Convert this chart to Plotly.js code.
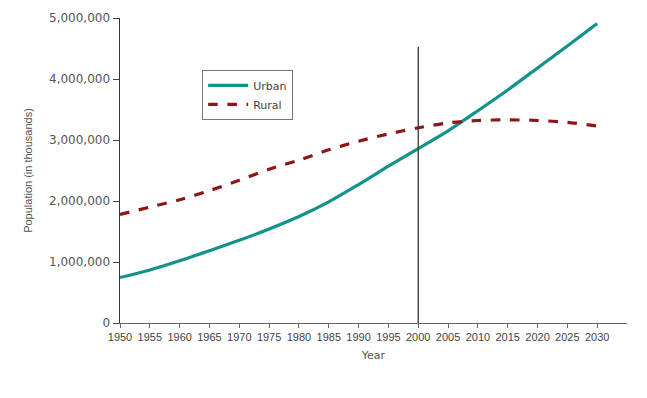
<!DOCTYPE html>
<html>
<head>
<meta charset="utf-8">
<script src="https://cdn.plot.ly/plotly-3.0.1.min.js"></script>
<style>html,body{margin:0;padding:0;background:#fff;}#chart{width:647px;height:398px;}</style>
</head>
<body>
<div id="chart"></div>
<script>
const years = [1950,1955,1960,1965,1970,1975,1980,1985,1990,1995,2000,2005,2010,2015,2020,2025,2030];
const urban = [745000,870000,1020000,1185000,1355000,1540000,1745000,1985000,2270000,2570000,2860000,3150000,3480000,3820000,4180000,4540000,4910000];
const rural = [1780000,1900000,2020000,2170000,2340000,2520000,2670000,2840000,2980000,3100000,3200000,3280000,3320000,3330000,3320000,3290000,3230000];
const yTicks = [0,1000000,2000000,3000000,4000000,5000000];
const yTickText = ['0','1,000,000','2,000,000','3,000,000','4,000,000','5,000,000'];
const dividerYear = 2000;
const dividerTop = 4530000;

const data = [
  {x: years, y: urban, name: 'Urban', type: 'scatter', mode: 'lines',
   line: {color: '#13918c', width: 3.2, shape: 'spline', smoothing: 0.8}},
  {x: years, y: rural, name: 'Rural', type: 'scatter', mode: 'lines',
   line: {color: '#8e1515', width: 3.2, dash: 'dash', shape: 'spline', smoothing: 0.8}}
];

const layout = {
  width: 647, height: 398,
  margin: {l: 120, r: 20, t: 18, b: 75},
  paper_bgcolor: '#fff', plot_bgcolor: '#fff',
  showlegend: true,
  legend: {x: 0.162, y: 0.83, xanchor: 'left', yanchor: 'top',
    bordercolor: '#777', borderwidth: 1, bgcolor: '#fff',
    font: {family: 'DejaVu Sans, sans-serif', size: 11, color: '#444'},
    tracegroupgap: 0, itemwidth: 40},
  xaxis: {range: [1950, 2035], tickvals: years, ticktext: years.map(String),
    showgrid: false, zeroline: false, showline: true, linecolor: '#666', linewidth: 1,
    ticks: 'outside', ticklen: 4, tickcolor: '#666',
    tickfont: {family: 'Liberation Sans, Arial, sans-serif', size: 11, color: '#444'},
    title: {text: 'Year', font: {family: 'DejaVu Sans, sans-serif', size: 11, color: '#555'}, standoff: 9}},
  yaxis: {range: [0, 5000000], tickvals: yTicks, ticktext: yTickText,
    showgrid: false, zeroline: false, showline: true, linecolor: '#333', linewidth: 1.5,
    ticks: 'outside', ticklen: 6, tickcolor: '#444',
    tickfont: {family: 'DejaVu Sans, sans-serif', size: 12, color: '#555'},
    title: {text: 'Population (in thousands)', font: {family: 'Liberation Sans Narrow, Liberation Sans, Arial, sans-serif', size: 11, color: '#555'}, standoff: 14}},
  shapes: [{type: 'line', xref: 'x', yref: 'y', x0: dividerYear, x1: dividerYear, y0: 0, y1: dividerTop,
    line: {color: '#333', width: 1.3}}]
};

Plotly.newPlot('chart', data, layout, {displayModeBar: false, staticPlot: true});
</script>
</body>
</html>
